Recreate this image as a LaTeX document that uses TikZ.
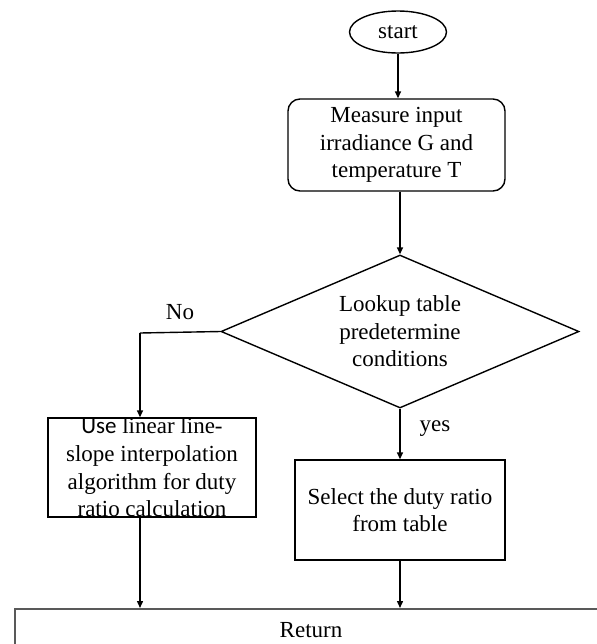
\documentclass[tikz,border=0pt]{standalone}
\usepackage{fontspec}
\setmainfont{Liberation Serif}
\newfontfamily\calfont{Carlito}
\usepackage{tikz}
\usetikzlibrary{shapes.geometric,arrows.meta}

\tikzset{
    txt/.style={font=\fontsize{11.5}{13.8}\selectfont, align=center},
    termnode/.style={txt, draw, ellipse, line width=0.7pt, inner sep=0pt, minimum width=48.5pt, minimum height=21pt},
    procbox/.style={txt, draw, rectangle, line width=0.7pt, inner sep=0pt},
    decnode/.style={txt, draw, diamond, aspect=2.34, line width=0.7pt, inner sep=0pt, minimum width=179pt, minimum height=76.5pt},
    retbox/.style={draw=black!65, rectangle, line width=1pt, minimum width=320pt, minimum height=30pt},
    flow/.style={line width=0.7pt, -{Triangle[length=3.5pt,width=3pt]}}
}

\begin{document}
\begin{tikzpicture}[x=0.5pt, y=-0.5pt]
    \useasboundingbox (0,0) rectangle (596,644);
    \node[termnode] (start) at (398,32) {start};
    \node[procbox, rounded corners=6pt, minimum width=108.5pt, minimum height=46pt] (meas) at (396.5,145)
        {Measure input\\irradiance G and\\temperature T};
    \node[decnode] (look) at (400,331.5) {Lookup table\\predetermine\\conditions};
    \node[procbox, minimum width=104pt] (interp) at (152,467.5)
        {{\calfont Use} linear line-\\slope interpolation\\algorithm for duty\\ratio calculation};
    \node[procbox, minimum width=105pt, minimum height=50pt] (sel) at (400,510)
        {Select the duty ratio\\from table};
    \node[retbox, anchor=north west] (ret) at (14,608) {};
    \node[txt] (rettext) at (311,630) {Return};
    \node[txt] (nolbl) at (180,312) {No};
    \node[txt] (yeslbl) at (435,429) {yes};
    \coordinate (nobend) at (140,333);

    \draw[flow] (start.south) -- (start.south |- meas.north);
    \draw[flow] (look.north |- meas.south) -- (look.north);
    \draw[line width=0.7pt] (look.west) -- (nobend);
    \draw[flow] (nobend) -- (nobend |- interp.north);
    \draw[flow] (look.south) -- (look.south |- sel.north);
    \draw[flow] (nobend |- interp.south) -- (nobend |- ret.north);
    \draw[flow] (sel.south) -- (sel.south |- ret.north);
\end{tikzpicture}
\end{document}
